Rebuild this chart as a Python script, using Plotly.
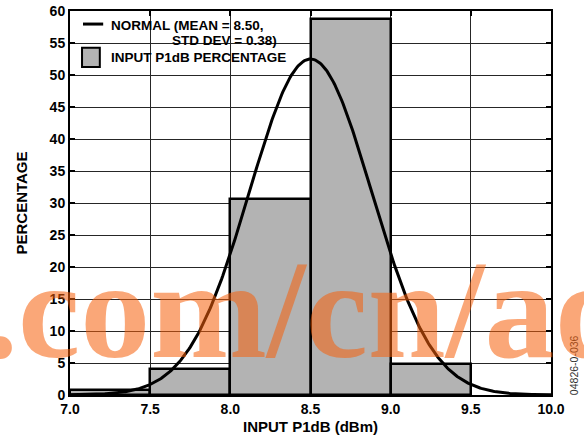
import numpy as np
import plotly.graph_objects as go

# Histogram of input P1dB (percentage of parts per 0.5 dB bin)
bin_edges = [7.0, 7.5, 8.0, 8.5, 9.0, 9.5]
bin_pct = [0.8, 4.0, 30.7, 58.8, 4.8]

# Normal fit parameters
fit_mean = 8.50
fit_std = 0.38

x_ticks = [7.0, 7.5, 8.0, 8.5, 9.0, 9.5, 10.0]
y_ticks = [0, 5, 10, 15, 20, 25, 30, 35, 40, 45, 50, 55, 60]

bin_width = bin_edges[1] - bin_edges[0]
bin_centers = [(a + b) / 2 for a, b in zip(bin_edges[:-1], bin_edges[1:])]

# Normal curve scaled to percentage per bin
curve_x = np.linspace(x_ticks[0], x_ticks[-1], 401)
curve_y = (100 * bin_width / (fit_std * np.sqrt(2 * np.pi))
           * np.exp(-0.5 * ((curve_x - fit_mean) / fit_std) ** 2))

FONT = "Liberation Sans"
BAR_FILL = "#b3b3b3"

fig = go.Figure()
fig.add_trace(go.Bar(
    x=bin_centers, y=bin_pct, width=bin_width,
    marker=dict(color=BAR_FILL, line=dict(color="black", width=2.5)),
    showlegend=False,
))
fig.add_trace(go.Scatter(
    x=curve_x, y=curve_y, mode="lines",
    line=dict(color="black", width=3),
    showlegend=False,
))

axis_common = dict(
    showline=True, linecolor="black", linewidth=2, mirror="ticks",
    ticks="inside", ticklen=5, tickwidth=1.5, tickcolor="black",
    showgrid=True, gridcolor="#262626", gridwidth=1.3,
    zeroline=False, automargin=False,
    tickfont=dict(family=FONT, size=14, color="black", weight="bold"),
)

fig.update_xaxes(
    range=[x_ticks[0], x_ticks[-1]], tickvals=x_ticks,
    ticktext=[f"{v:.1f}" for v in x_ticks],
    title=dict(text="INPUT P1dB (dBm)", standoff=6,
               font=dict(family=FONT, size=15, color="black", weight="bold")),
    **axis_common,
)
fig.update_yaxes(
    range=[y_ticks[0], y_ticks[-1]], tickvals=y_ticks,
    ticktext=[str(v) for v in y_ticks],
    title=dict(text="PERCENTAGE", standoff=18,
               font=dict(family=FONT, size=15, color="black", weight="bold")),
    **axis_common,
)

# Legend block in the top-left corner of the plot
shapes = [
    dict(type="rect", xref="paper", yref="paper", x0=0.0, x1=0.478,
         y0=0.841, y1=1.0, fillcolor="white", line=dict(width=0),
         layer="between"),
    dict(type="line", xref="paper", yref="paper", x0=0.027, x1=0.069,
         y0=0.966, y1=0.966, line=dict(color="black", width=3)),
    dict(type="rect", xref="paper", yref="paper", x0=0.025, x1=0.062,
         y0=0.854, y1=0.904, fillcolor=BAR_FILL,
         line=dict(color="black", width=2)),
]
legend_font = dict(family=FONT, size=13.5, color="black", weight="bold")
annotations = [
    dict(xref="paper", yref="paper", x=0.081, y=0.962, xanchor="left",
         yanchor="middle", showarrow=False,
         text=f"NORMAL (MEAN = {fit_mean:.2f},", font=legend_font),
    dict(xref="paper", yref="paper", x=0.434, y=0.924, xanchor="right",
         yanchor="middle", showarrow=False,
         text=f"STD DEV = {fit_std:.2f})", font=legend_font),
    dict(xref="paper", yref="paper", x=0.081, y=0.880, xanchor="left",
         yanchor="middle", showarrow=False,
         text="INPUT P1dB PERCENTAGE", font=legend_font),
    # figure code along the right edge
    dict(xref="paper", yref="paper", x=1.048, y=0.078, xanchor="center",
         yanchor="middle", showarrow=False, textangle=-90,
         text="04826-0-036",
         font=dict(family=FONT, size=10.5, color="#333333")),
    # site watermark
    dict(xref="paper", yref="paper", x=-0.185, y=0.222, xanchor="left",
         yanchor="middle", showarrow=False,
         text=".com/cn/ad",
         font=dict(family="Liberation Serif", size=140,
                   color="rgba(245,95,10,0.55)", weight="bold")),
]

fig.update_layout(
    width=584, height=446,
    margin=dict(l=70, r=33, t=11, b=51),
    paper_bgcolor="white", plot_bgcolor="white",
    bargap=0, shapes=shapes, annotations=annotations,
    showlegend=False,
)

fig.write_html("out.html")
